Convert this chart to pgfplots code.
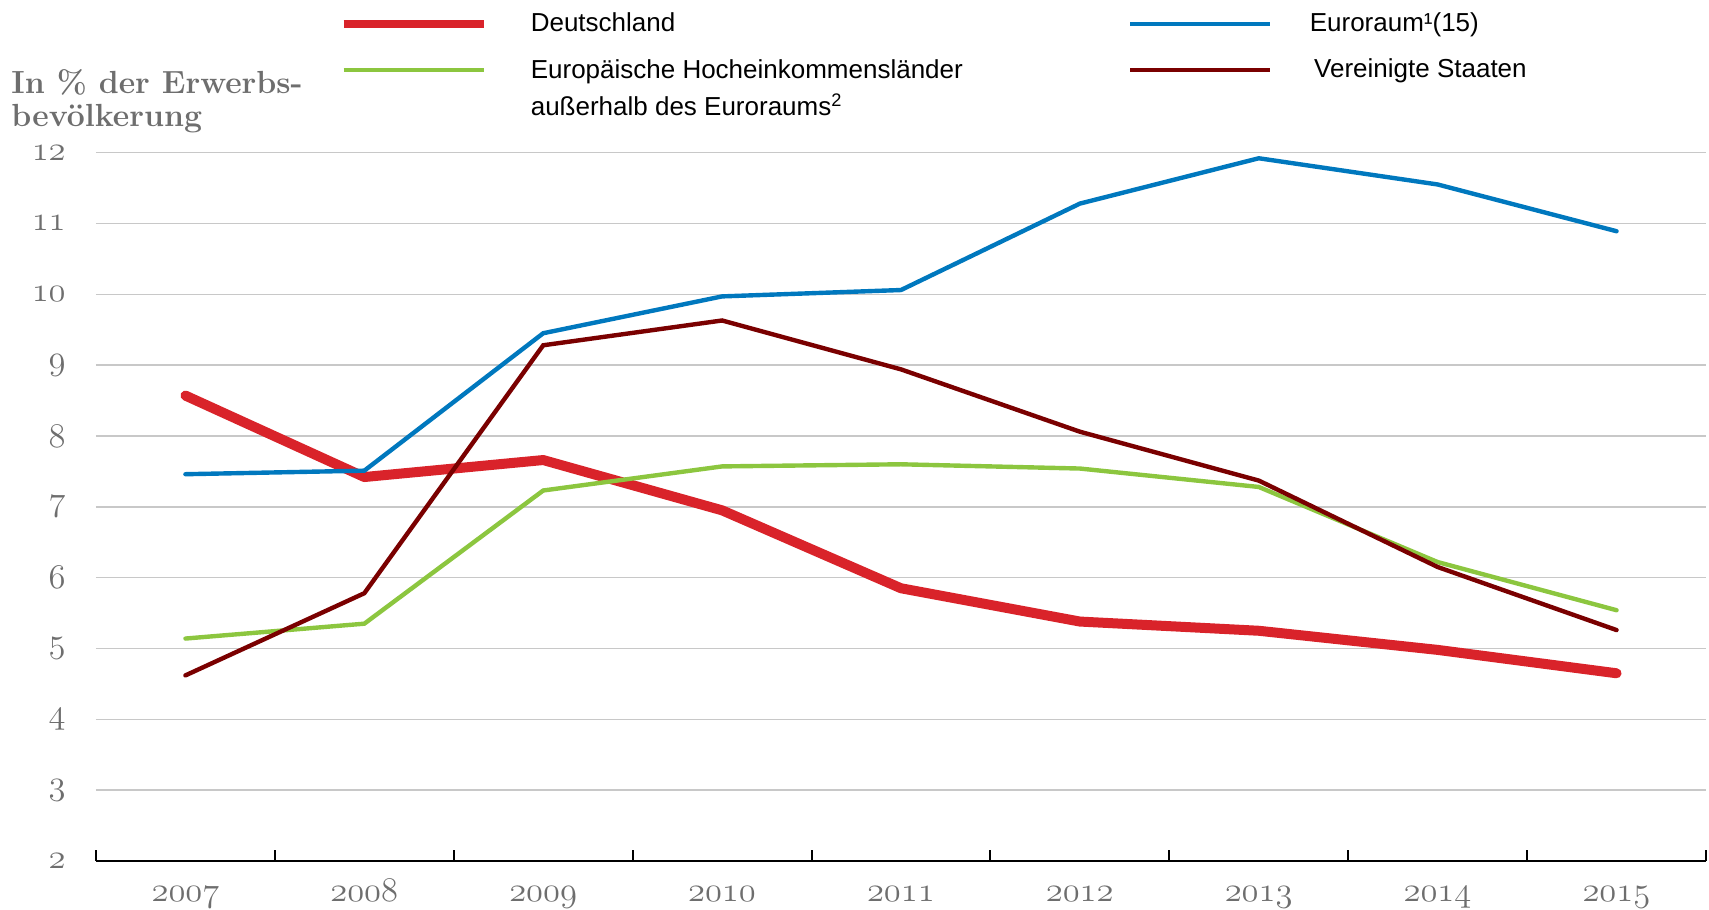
\documentclass[border=0pt]{standalone}
\usepackage{fontspec}
\usepackage{graphicx}
\usepackage{pgfplots}
\usepackage{pgfplotstable}
\pgfplotsset{compat=1.18}
\newfontfamily\lsans{Liberation Sans}
\definecolor{cRed}{HTML}{D9232A}
\definecolor{cBlue}{HTML}{0078BE}
\definecolor{cGreen}{HTML}{8CC63F}
\definecolor{cMaroon}{HTML}{7A0000}
\definecolor{cGrid}{HTML}{C8C8C8}
\definecolor{cLab}{HTML}{6E6E6E}
\newcommand\tl[1]{\textcolor{cLab}{\fontsize{17.28}{19}\selectfont\legacyoldstylenums{#1}}}
\newcommand\tly[1]{\textcolor{cLab}{\fontsize{17.28}{19}\selectfont\legacyoldstylenums{#1}}}

\pgfplotstableread{
year de ea eu us
2007 8.57 7.46 5.14 4.62
2008 7.42 7.51 5.35 5.78
2009 7.66 9.45 7.23 9.28
2010 6.95 9.97 7.57 9.63
2011 5.85 10.06 7.60 8.94
2012 5.38 11.28 7.54 8.06
2013 5.25 11.92 7.28 7.37
2014 4.98 11.55 6.22 6.15
2015 4.65 10.89 5.54 5.26
}\datatable

\begin{document}
\begin{tikzpicture}
\begin{axis}[
  scale only axis, width=805pt, height=354.2pt,
  xmin=2006.5, xmax=2015.5, ymin=2, ymax=12,
  clip=false,
  axis x line*=bottom, axis y line*=left,
  y axis line style={draw=none},
  x axis line style={black, line width=1.4pt},
  xtick={2007,...,2015},
  xticklabels={\tl{2007},\tl{2008},\tl{2009},\tl{2010},\tl{2011},\tl{2012},\tl{2013},\tl{2014},\tl{2015}},
  major x tick style={draw=none},
  minor xtick={2006.5,2007.5,...,2015.5},
  minor tick length=5.5pt,
  xtick align=inside,
  minor x tick style={black, line width=1pt},
  xticklabel style={anchor=base, inner sep=0pt, yshift=-20.5pt},
  ytick={2,...,12},
  yticklabels={\tly{2},\tly{3},\tly{4},\tly{5},\tly{6},\tly{7},\tly{8},\tly{9},\tly{10},\tly{11},\tly{12}},
  ytick style={draw=none},
  yticklabel style={anchor=east, inner sep=0pt, xshift=-15pt},
  ymajorgrids, grid style={cGrid, line width=0.75pt},
  legend columns=2,
  legend cell align=left,
  legend image code/.code={\draw[#1,line cap=butt] (0pt,0pt) -- (70pt,0pt);},
  legend style={at={(axis description cs:0.1513,1.2025)}, anchor=north west,
    draw=none, fill=none, inner sep=0pt, outer sep=0pt,
    font=\lsans\fontsize{13}{15}\selectfont,
    column sep=19.6pt, row sep=7.5pt},
]
\addplot[cRed, line width=5pt, line cap=round, line join=round, legend image post style={line width=4pt}] table[x=year,y=de] {\datatable};
\addlegendentry{\makebox[277.1pt][l]{Deutschland}}
\addplot[cBlue, line width=2.2pt, line cap=round, legend image post style={line width=1.9pt}] table[x=year,y=ea] {\datatable};
\addlegendentry{\hspace*{-2.7pt}Euroraum¹(15)}
\addplot[cGreen, line width=2.2pt, line cap=round, legend image post style={line width=1.9pt}] table[x=year,y=eu] {\datatable};
\addlegendentry{\makebox[277.1pt][l]{\begin{tabular}[t]{@{}l@{}}Europäische Hocheinkommensländer\\[3pt]außerhalb des Euroraums\textsuperscript{2}\end{tabular}}}
\addplot[cMaroon, line width=2.2pt, line cap=round, legend image post style={line width=1.9pt}] table[x=year,y=us] {\datatable};
\addlegendentry{\hspace*{-0.5pt}Vereinigte Staaten}
\coordinate (O) at (rel axis cs:0,0);
\end{axis}
\node[anchor=base west, inner sep=0pt, text=cLab, font=\bfseries\fontsize{16}{17}\selectfont] at ([shift={(-42.5pt,383.5pt)}]O) {In \% der Erwerbs-};
\node[anchor=base west, inner sep=0pt, text=cLab, font=\bfseries\fontsize{16}{17}\selectfont] at ([shift={(-42.5pt,367pt)}]O) {bevölkerung};
\pgfresetboundingbox
\path ([shift={(-48pt,-24.5pt)}]O) rectangle ([shift={(806.5pt,430.5pt)}]O);
\end{tikzpicture}
\end{document}
